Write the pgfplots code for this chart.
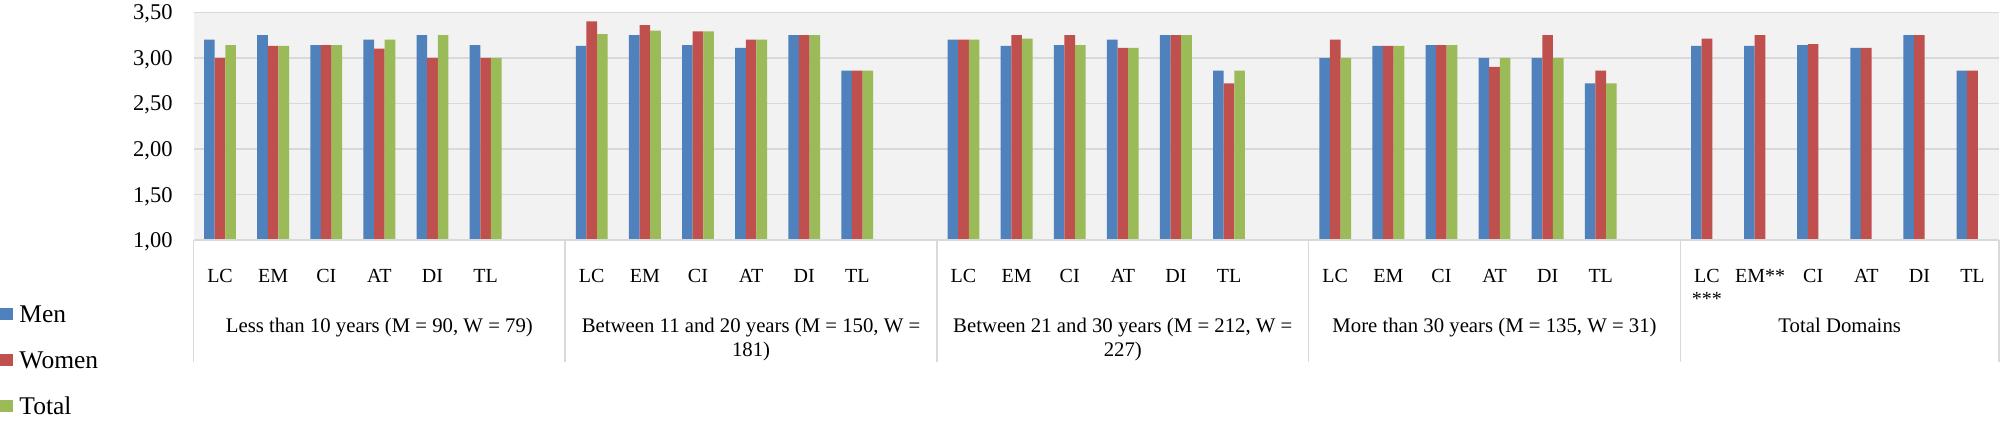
\documentclass[border=0pt]{standalone}
\usepackage{fontspec}
\setmainfont{Liberation Serif}
\usepackage{pgfplots}
\pgfplotsset{compat=1.18}
\definecolor{men}{HTML}{4F81BD}
\definecolor{women}{HTML}{C0504D}
\definecolor{total}{HTML}{9BBB59}
\definecolor{plotbg}{HTML}{F2F2F2}
\definecolor{gridc}{HTML}{D9D9D9}
\definecolor{sepc}{HTML}{D9D9D9}
\begin{document}
\begin{tikzpicture}
\begin{axis}[
 at={(0pt,0pt)}, anchor=south west, scale only axis,
 width=722.2pt, height=91.08pt,
 xmin=-0.5, xmax=33.5, ymin=1, ymax=3.5,
 ytick={1,1.5,2,2.5,3,3.5},
 xtick={0,1,2,3,4,5,7,8,9,10,11,12,14,15,16,17,18,19,21,22,23,24,25,26,28,29,30,31,32,33},
 xticklabels={LC,EM,CI,AT,DI,TL,LC,EM,CI,AT,DI,TL,LC,EM,CI,AT,DI,TL,LC,EM,CI,AT,DI,TL,{LC\\***},{EM**},CI,AT,DI,TL},
 ybar=0pt, bar width=0.2,
 axis line style={draw=none},
 tick style={draw=none},
 ymajorgrids, grid style={draw=gridc, line width=0.55pt},
 axis background/.style={fill=plotbg},
 /pgf/number format/use comma,
 /pgf/number format/fixed,
 /pgf/number format/fixed zerofill,
 /pgf/number format/precision=2,
 /pgf/number format/assume math mode=true,
 yticklabel style={font=\fontsize{9}{10}\selectfont, anchor=base east, inner sep=0pt, xshift=-8.2pt, yshift=-3.04pt},
 xticklabel style={font=\fontsize{8}{9.4}\selectfont, anchor=north, inner sep=0pt, yshift=-7.2pt, align=center},
]
\addplot[fill=men, draw=none] coordinates {
 (0,3.20) (1,3.25) (2,3.14) (3,3.20) (4,3.25) (5,3.14)
 (7,3.13) (8,3.25) (9,3.14) (10,3.11) (11,3.25) (12,2.86)
 (14,3.20) (15,3.13) (16,3.14) (17,3.20) (18,3.25) (19,2.86)
 (21,3.00) (22,3.13) (23,3.14) (24,3.00) (25,3.00) (26,2.72)
 (28,3.13) (29,3.13) (30,3.14) (31,3.11) (32,3.25) (33,2.86)
};
\addplot[fill=women, draw=none] coordinates {
 (0,3.00) (1,3.13) (2,3.14) (3,3.10) (4,3.00) (5,3.00)
 (7,3.40) (8,3.36) (9,3.29) (10,3.20) (11,3.25) (12,2.86)
 (14,3.20) (15,3.25) (16,3.25) (17,3.11) (18,3.25) (19,2.72)
 (21,3.20) (22,3.13) (23,3.14) (24,2.90) (25,3.25) (26,2.86)
 (28,3.21) (29,3.25) (30,3.15) (31,3.11) (32,3.25) (33,2.86)
};
\addplot[fill=total, draw=none] coordinates {
 (0,3.14) (1,3.13) (2,3.14) (3,3.20) (4,3.25) (5,3.00)
 (7,3.26) (8,3.30) (9,3.29) (10,3.20) (11,3.25) (12,2.86)
 (14,3.20) (15,3.21) (16,3.14) (17,3.11) (18,3.25) (19,2.86)
 (21,3.00) (22,3.13) (23,3.14) (24,3.00) (25,3.00) (26,2.72)
};
\coordinate (s0) at (axis cs:-0.5,1);
\coordinate (s1) at (axis cs:6.5,1);
\coordinate (s2) at (axis cs:13.5,1);
\coordinate (s3) at (axis cs:20.5,1);
\coordinate (s4) at (axis cs:27.5,1);
\coordinate (s5) at (axis cs:33.5,1);
\coordinate (g0) at (axis cs:3,1);
\coordinate (g1) at (axis cs:10,1);
\coordinate (g2) at (axis cs:17,1);
\coordinate (g3) at (axis cs:24,1);
\coordinate (g4) at (axis cs:30.5,1);
\end{axis}
\draw[sepc, line width=0.6pt] (s0) -- (s5);
\foreach \i in {0,...,5} \draw[sepc, line width=0.6pt] (s\i) -- ++(0,-48.8pt);
\tikzset{glab/.style={anchor=north, inner sep=0pt, align=center, font=\fontsize{8.3}{9.6}\selectfont}}
\node[glab] at ([yshift=-31.2pt]g0) {Less than 10 years (M = 90, W = 79)};
\node[glab] at ([yshift=-31.2pt]g1) {Between 11 and 20 years (M = 150, W =\\181)};
\node[glab] at ([yshift=-31.2pt]g2) {Between 21 and 30 years (M = 212, W =\\227)};
\node[glab] at ([yshift=-31.2pt]g3) {More than 30 years (M = 135, W = 31)};
\node[glab] at ([yshift=-31.2pt]g4) {Total Domains};
\tikzset{leg/.style={anchor=base west, inner sep=0pt, font=\fontsize{10.2}{12}\selectfont}}
\fill[men] (-77.4pt,-27.2pt) rectangle (-72.2pt,-32pt);
\node[leg] at (-69.8pt,-33.2pt) {Men};
\fill[women] (-77.4pt,-45.6pt) rectangle (-72.2pt,-50.4pt);
\node[leg] at (-69.8pt,-51.6pt) {Women};
\fill[total] (-77.4pt,-64pt) rectangle (-72.2pt,-68.8pt);
\node[leg] at (-69.8pt,-70pt) {Total};
\pgfresetboundingbox
\path (-77.4pt,-74pt) rectangle (722.6pt,96pt);
\end{tikzpicture}
\end{document}
